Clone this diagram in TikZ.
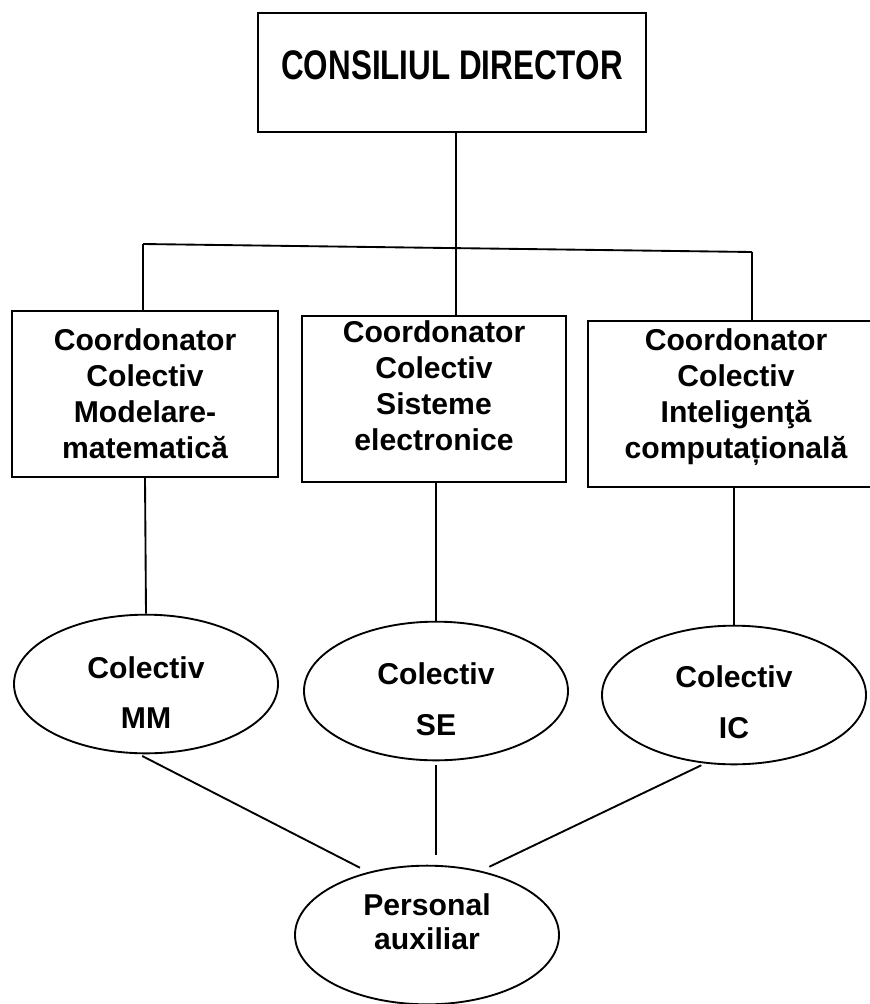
\documentclass[tikz,border=0pt]{standalone}
\usepackage{fontspec}
\setmainfont{Liberation Sans}
\newfontfamily\titlefont[FakeStretch=0.76]{Liberation Sans}
\usetikzlibrary{shapes.geometric}

\tikzset{
  chart/.style={line width=1.4pt},
  link/.style={line width=1.4pt, shorten <=3pt, shorten >=7pt},
  box/.style={draw, rectangle, line width=1.4pt, minimum width=199.5pt, minimum height=124.5pt,
    align=center, inner sep=0pt, font=\fontsize{22.6}{27}\selectfont\bfseries},
  group/.style={draw, ellipse, line width=1.4pt, minimum width=198pt, minimum height=104pt,
    align=center, inner sep=0pt, font=\fontsize{22.6}{38}\selectfont\bfseries},
}

\begin{document}
\begin{tikzpicture}[x=0.75pt,y=0.75pt,yscale=-1,xscale=1]
\useasboundingbox (0,0) rectangle (870,1004);

%Shape: Rectangle
\node [box, minimum width=291pt, minimum height=89pt, text depth=11.25pt,
  font=\fontsize{31}{36}\selectfont\titlefont\bfseries] (cd) at (452,72.5) {CONSILIUL DIRECTOR};
%Shape: Rectangle
\node [box] (lb) at (145,394) {Coordonator\\Colectiv\\Modelare-\\matematică};
%Shape: Rectangle
\node [box, minimum width=198pt, text depth=19.5pt] (mb) at (434,399) {Coordonator\\Colectiv\\Sisteme\\electronice};
%Shape: Rectangle
\node [box, minimum width=222pt, text depth=15pt] (rb) at (736,404) {Coordonator\\Colectiv\\Inteligenţă\\computațională};

%Shape: Ellipse
\node [group, text height=67pt] (mm) at (146,684) {Colectiv\\MM};
%Shape: Ellipse
\node [group, text height=67pt] (se) at (436,691) {Colectiv\\SE};
%Shape: Ellipse
\node [group, text height=65.5pt] (ic) at (734,695) {Colectiv\\IC};
%Shape: Ellipse
\node [group, text depth=19.5pt, font=\fontsize{22.6}{25.5}\selectfont\bfseries] (pa) at (427,935) {Personal\\auxiliar};

\coordinate (barL) at (143,244);
\coordinate (barM) at (456,248);
\coordinate (barR) at (752,252);

%Straight Lines
\draw [chart] (cd.south -| barM) -- (barM);
\draw [chart] (barL) -- (barR);
\draw [chart] (barL) -- (barL |- lb.north);
\draw [chart] (barM) -- (barM |- mb.north);
\draw [chart] (barR) -- (barR |- rb.north);

%Straight Lines
\draw [chart] (lb.south) -- (mm.north);
\draw [chart] (se.north |- mb.south) -- (se.north);
\draw [chart] (ic.north |- rb.south) -- (ic.north);

%Straight Lines
\draw [link] (mm.264) -- (pa.133);
\draw [link] (se.south) -- (se.south |- pa.north);
\draw [link] (ic.247) -- (pa.50);

\end{tikzpicture}
\end{document}
